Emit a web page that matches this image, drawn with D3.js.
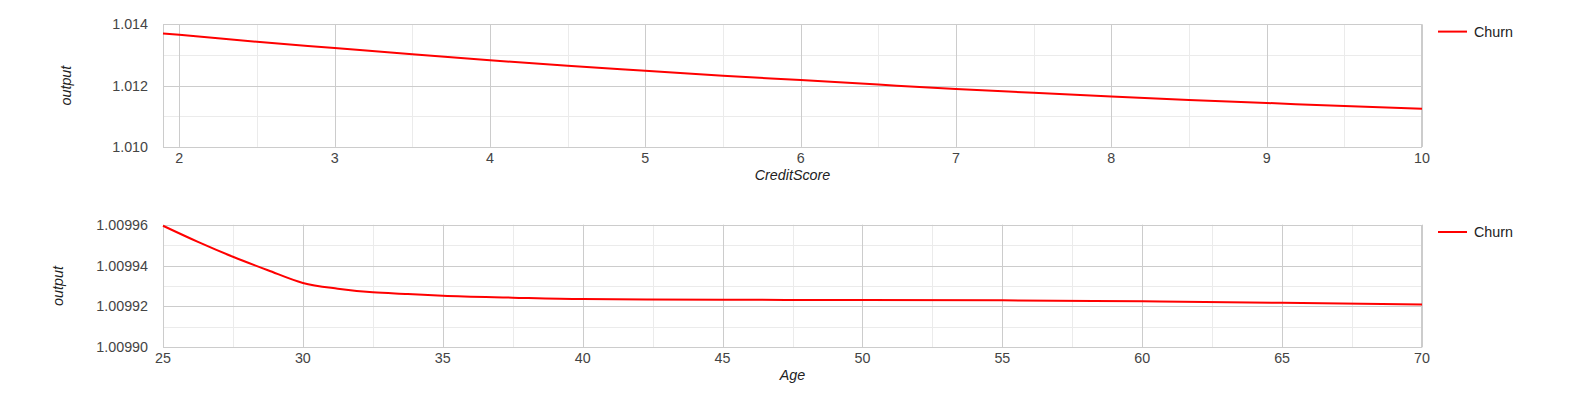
<!DOCTYPE html>
<html>
<head>
<meta charset="utf-8">
<script src="https://cdn.jsdelivr.net/npm/d3@7"></script>
<style>
  body { margin: 0; background: #fff; }
  svg { display: block; font-family: Arial, "Liberation Sans", sans-serif; }
</style>
</head>
<body>
<div id="chart"></div>
<script>
// Partial dependence of churn output on CreditScore and Age

const seriesName = "Churn";

const creditX = [1.895, 2, 2.5, 3, 3.5, 4, 4.5, 5, 5.5, 6, 6.5, 7, 7.5, 8, 8.5, 9, 9.5, 10];
const creditY = [1.013699, 1.013656, 1.01343, 1.013226, 1.013022, 1.012828, 1.012645, 1.012484,
  1.012323, 1.01218, 1.012033, 1.011889, 1.011767, 1.011644, 1.011533, 1.011433, 1.011333, 1.011244];
const creditXTicks = [2, 3, 4, 5, 6, 7, 8, 9, 10];
const creditYTicks = [1.010, 1.012, 1.014];

const ageX = [25, 26.25, 27.5, 28.75, 30, 31.25, 32.5, 33.75, 35, 37.5, 40, 45, 50, 55, 60, 65, 70];
const ageY = [1.0099595, 1.0099516, 1.0099443, 1.0099377, 1.0099315, 1.0099287, 1.0099269, 1.0099261,
  1.0099252, 1.0099243, 1.0099236, 1.0099233, 1.0099231, 1.009923, 1.0099225, 1.0099218, 1.009921];
const ageXTicks = [25, 30, 35, 40, 45, 50, 55, 60, 65, 70];
const ageYTicks = [1.0099, 1.00992, 1.00994, 1.00996];

const W = 1583, H = 398;
const fontSize = 14.3;

const svg = d3.select("#chart").append("svg").attr("width", W).attr("height", H);

function drawPanel(opt) {
  const left = 163, right = 1422;
  const top = opt.top, bottom = opt.top + 122.6;

  const x = d3.scaleLinear().domain(opt.xDomain).range([left, right]);
  const y = d3.scaleLinear().domain(opt.yDomain).range([bottom, top]);

  const g = svg.append("g");

  // minor gridlines (midpoints between major ticks)
  const xMinor = d3.pairs(opt.xTicks).map(([a, b]) => (a + b) / 2);
  const yMinor = d3.pairs(opt.yTicks).map(([a, b]) => (a + b) / 2);

  g.selectAll(".xminor").data(xMinor).join("line")
    .attr("x1", (d) => Math.round(x(d)) + 0.5).attr("x2", (d) => Math.round(x(d)) + 0.5)
    .attr("y1", top).attr("y2", bottom)
    .attr("stroke", "#ebebeb");
  g.selectAll(".yminor").data(yMinor).join("line")
    .attr("x1", left).attr("x2", right)
    .attr("y1", (d) => Math.round(y(d)) + 0.5).attr("y2", (d) => Math.round(y(d)) + 0.5)
    .attr("stroke", "#ebebeb");

  // major gridlines
  g.selectAll(".xmajor").data(opt.xTicks).join("line")
    .attr("x1", (d) => Math.round(x(d)) + 0.5).attr("x2", (d) => Math.round(x(d)) + 0.5)
    .attr("y1", top).attr("y2", bottom)
    .attr("stroke", "#cccccc");
  g.selectAll(".ymajor").data(opt.yTicks).join("line")
    .attr("x1", left).attr("x2", right)
    .attr("y1", (d) => Math.round(y(d)) + 0.5).attr("y2", (d) => Math.round(y(d)) + 0.5)
    .attr("stroke", "#cccccc");

  // frame
  g.append("rect")
    .attr("x", left + 0.5).attr("y", Math.round(top) + 0.5)
    .attr("width", right - left - 1).attr("height", Math.round(bottom) - Math.round(top))
    .attr("fill", "none").attr("stroke", "#cccccc");

  // tick labels
  g.selectAll(".xlab").data(opt.xTicks).join("text")
    .attr("x", (d) => x(d)).attr("y", bottom + 16)
    .attr("text-anchor", "middle")
    .attr("font-size", fontSize).attr("fill", "#444")
    .text((d) => d);
  g.selectAll(".ylab").data(opt.yTicks).join("text")
    .attr("x", 148).attr("y", (d) => y(d) + 5)
    .attr("text-anchor", "end")
    .attr("font-size", fontSize).attr("fill", "#444")
    .text((d) => d3.format(opt.yFormat)(d));

  // axis titles
  g.append("text")
    .attr("x", (left + right) / 2).attr("y", bottom + 33)
    .attr("text-anchor", "middle")
    .attr("font-size", fontSize).attr("font-style", "italic").attr("fill", "#222")
    .text(opt.xTitle);
  g.append("text")
    .attr("transform", `translate(${opt.yTitleX},${(top + bottom) / 2}) rotate(-90)`)
    .attr("text-anchor", "middle")
    .attr("font-size", fontSize).attr("font-style", "italic").attr("fill", "#222")
    .text("output");

  // series line
  const pts = opt.xs.map((v, i) => [v, opt.ys[i]]);
  g.append("path")
    .datum(pts)
    .attr("fill", "none")
    .attr("stroke", "#ff0000")
    .attr("stroke-width", 2)
    .attr("d", d3.line().x((d) => x(d[0])).y((d) => y(d[1])).curve(d3.curveMonotoneX));

  // legend
  const ly = top + 7.3;
  g.append("line")
    .attr("x1", 1438).attr("x2", 1467).attr("y1", ly).attr("y2", ly)
    .attr("stroke", "#ff0000").attr("stroke-width", 2);
  g.append("text")
    .attr("x", 1474).attr("y", ly + 5)
    .attr("font-size", fontSize).attr("fill", "#222")
    .text(seriesName);
}

drawPanel({
  top: 24.3,
  xDomain: [1.895, 10], yDomain: [1.010, 1.014],
  xTicks: creditXTicks, yTicks: creditYTicks, yFormat: ".3f",
  xs: creditX, ys: creditY,
  xTitle: "CreditScore", yTitleX: 71
});

drawPanel({
  top: 224.7,
  xDomain: [25, 70], yDomain: [1.0099, 1.00996],
  xTicks: ageXTicks, yTicks: ageYTicks, yFormat: ".5f",
  xs: ageX, ys: ageY,
  xTitle: "Age", yTitleX: 63
});
</script>
</body>
</html>
